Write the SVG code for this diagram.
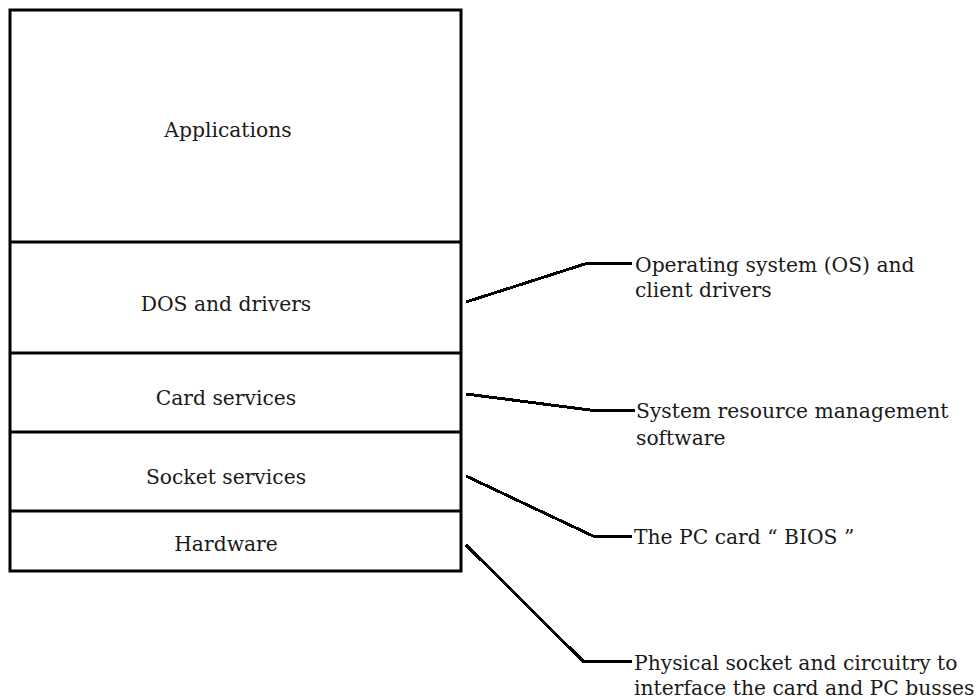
<svg xmlns="http://www.w3.org/2000/svg" width="977" height="699" viewBox="0 0 977 699">
<style>
.box{fill:#fff;stroke:#000;stroke-width:3}
.div{stroke:#000;stroke-width:3}
.t{font-family:"DejaVu Serif","Liberation Serif",serif;font-size:20.3px;fill:#1a1a1a}
.c{text-anchor:middle}
.con{fill:none;stroke:#000;stroke-width:3;shape-rendering:crispEdges}
</style>
<rect width="977" height="699" fill="#fff"/>
<g id="stack">
<rect class="box" x="10" y="10" width="451" height="561"/>
</g>
<g id="applications">
<text class="t c" x="228" y="137">Applications</text>
</g>
<g id="dos">
<line class="div" x1="10" y1="242" x2="461" y2="242"/>
<text class="t c" x="226" y="311">DOS and drivers</text>
</g>
<g id="card">
<line class="div" x1="10" y1="353" x2="461" y2="353"/>
<text class="t c" x="226" y="405">Card services</text>
</g>
<g id="socket">
<line class="div" x1="10" y1="432" x2="461" y2="432"/>
<text class="t c" x="226" y="484">Socket services</text>
</g>
<g id="hardware">
<line class="div" x1="10" y1="511" x2="461" y2="511"/>
<text class="t c" x="226" y="551">Hardware</text>
</g>
<g id="connectors">
<polyline class="con" points="466,302 588,263 632,263"/>
<polyline class="con" points="466,394 590,410 635,410"/>
<polyline class="con" points="466,476 593,536 632,536"/>
<polyline class="con" points="466,545 583,661 632,661"/>
</g>
<g id="label-os">
<text class="t" x="635" y="272">Operating system (OS) and</text>
<text class="t" x="635" y="297">client drivers</text>
</g>
<g id="label-srm">
<text class="t" x="636" y="418">System resource management</text>
<text class="t" x="636" y="445">software</text>
</g>
<g id="label-bios">
<text class="t" x="634" y="544">The PC card “ BIOS ”</text>
</g>
<g id="label-phys">
<text class="t" x="634" y="670">Physical socket and circuitry to</text>
<text class="t" x="634" y="695">interface the card and PC busses</text>
</g>
</svg>
